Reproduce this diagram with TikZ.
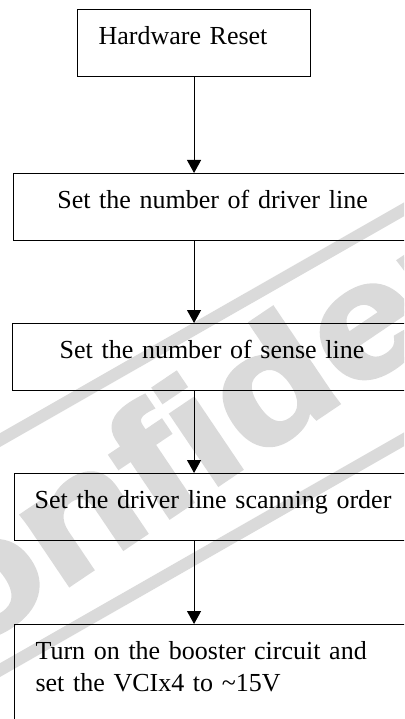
\documentclass[tikz,border=0pt]{standalone}
\usepackage{fontspec}
\setmainfont{Liberation Serif}
\newfontfamily\wmfont{Liberation Sans}[BoldFeatures={FakeBold=2.5}]
\usetikzlibrary{calc}
\usetikzlibrary{positioning}
\usetikzlibrary{arrows.meta}
\definecolor{wmgray}{RGB}{218,218,218}

\begin{document}
\begin{tikzpicture}[x=1pt,y=1pt,
  stepbox/.style={draw,line width=1.1pt,anchor=north west,inner ysep=0pt,
    text height=35pt,text depth=32pt,
    font=\fontsize{26}{31.8}\selectfont},
  midbox/.style={stepbox,inner xsep=4pt,text width=#1-8pt,align=center},
  leftbox/.style={stepbox,inner xsep=21pt,text width=#1-42pt,align=left},
  arr/.style={line width=1pt,-{Triangle[width=14pt,length=13pt]}}]
 \useasboundingbox (0,0) rectangle (404,-719);
 \clip (0,0) rectangle (404,-719);
 % watermark
 \draw[wmgray,line width=12pt] (-20,-451.5) -- (430,-194.5);
 \draw[wmgray,line width=12pt] (-20,-681.5) -- (430,-424.5);
 \node[wmgray,anchor=base west,rotate=34,inner sep=0pt,
   font=\wmfont\bfseries\fontsize{160}{160}\selectfont] (stamp) at (-151.5,-734)
   {\scalebox{1.19}[1]{Confidential}};
 % steps
 \node[leftbox=233pt] (reset) at (77,-9) {Hardware Reset};
 \node[midbox=398pt] (driver) at (13,-173) {Set the number of driver line};
 \node[midbox=399pt] (sense) at (12,-323) {Set the number of sense line};
 \node[midbox=397pt] (order) at (14,-473) {Set the driver line scanning order};
 \node[leftbox=400pt,text depth=75pt] (booster) at (14,-624)
   {Turn on the booster circuit and\\ set the VCIx4 to \textasciitilde15V};
 % arrows
 \draw[arr] (reset.south) -- (reset.south |- driver.north);
 \draw[arr] (reset.south |- driver.south) -- (reset.south |- sense.north);
 \draw[arr] (reset.south |- sense.south) -- (reset.south |- order.north);
 \draw[arr] (reset.south |- order.south) -- (reset.south |- booster.north);
\end{tikzpicture}
\end{document}
